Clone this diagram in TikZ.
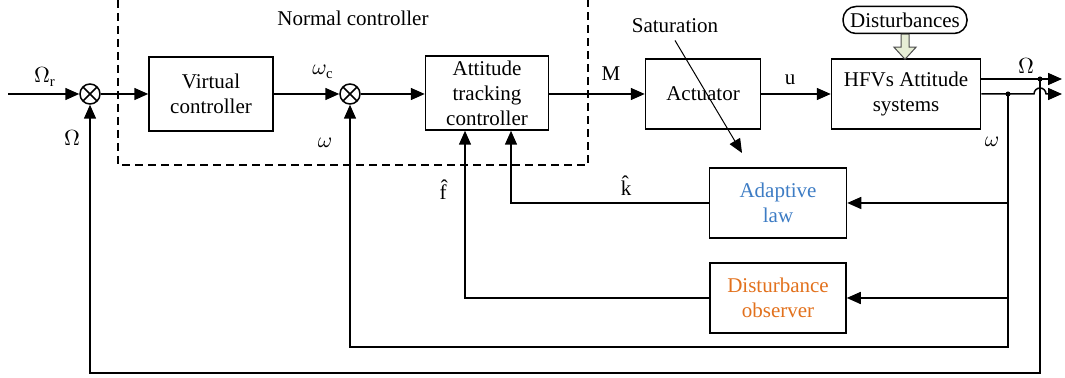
\documentclass[tikz,border=0pt]{standalone}
\usepackage{fontspec}
\setmainfont{Liberation Serif}
\usetikzlibrary{arrows.meta}
\definecolor{lawblue}{HTML}{3D7CC4}
\definecolor{obsorange}{HTML}{E2711D}
\definecolor{hollowfill}{HTML}{E6EDD5}
\begin{document}
\begin{tikzpicture}[x=0.5pt, y=-0.5pt, >={Triangle[length=7pt,width=6pt]}, line width=0.75pt,
    block/.style={draw, align=center, inner sep=0pt, font=\fontsize{10.5}{12.5}\selectfont},
    sumnode/.style={draw, circle, minimum size=10pt, inner sep=0pt,
        path picture={\draw (path picture bounding box.north west) -- (path picture bounding box.south east)
            (path picture bounding box.south west) -- (path picture bounding box.north east);}},
    lbl/.style={font=\fontsize{10.5}{12.5}\selectfont},
    dot/.style={circle, fill, inner sep=0pt, minimum size=2.5pt}]
    \useasboundingbox (0,0) rectangle (1065,378);
    % normal controller frame
    \draw[dashed, dash pattern=on 4pt off 2.5pt] (118,0) |- (588,165) -- (588,0);
    \node[lbl] (ncl) at (353,18) {Normal controller};
    % main row
    \coordinate (in) at (8,94);
    \node[sumnode] (s1) at (90,94) {};
    \node[block, minimum width=62pt, minimum height=37pt] (vc) at (211,94) {Virtual\\controller};
    \node[sumnode] (s2) at (350,94) {};
    \node[block, minimum width=61.5pt, minimum height=37pt] (atc) at (487,93) {Attitude\\tracking\\controller};
    \node[block, minimum width=57.5pt, minimum height=35pt] (act) at (703,94) {Actuator};
    \node[block, minimum width=74.5pt, minimum height=35pt] (hfv) at (906,94) {HFVs Attitude\\systems};
    \node[draw, rounded corners=6.5pt, minimum width=62pt, minimum height=13.5pt, inner sep=0pt, lbl] (dist) at (905,20) {Disturbances};
    % feedback blocks
    \node[block, minimum width=68.5pt, minimum height=35pt, text=lawblue] (adapt) at (778,203) {Adaptive\\law};
    \node[block, minimum width=68pt, minimum height=35pt, text=obsorange] (obs) at (778,298) {Disturbance\\observer};
    % outputs and branch points
    \node[dot] (bO) at (1040,79) {};
    \node[dot] (bw) at (1008,94) {};
    \coordinate (oO) at (1062,79);
    \coordinate (ow) at (1062,94);
    \coordinate (jL) at (1034,94);

    \draw[->] (in) -- (s1);
    \draw[->] (s1) -- (vc);
    \draw[->] (vc) -- (s2);
    \draw[->] (s2) -- (atc.west |- s2);
    \draw[->] (atc.east |- act) -- (act);
    \draw[->] (act) -- (hfv);
    \draw[->] (hfv.east |- bO) -- (oO);
    \draw[->] (hfv.east) -- (jL) arc[start angle=180, end angle=0, radius=3pt] -- (ow);
    \draw[->] (bO.center) -- ++(0,294) -| (s1);
    \draw[->] (bw.center) -- ++(0,253) -| (s2);
    \draw[->] (bw |- adapt) -- (adapt);
    \draw[->] (bw |- obs) -- (obs);
    \draw[->] (adapt) -| ([xshift=12pt]atc.south);
    \draw[->] (obs) -| ([xshift=-11pt]atc.south);
    % disturbance input
    \draw[fill=hollowfill, draw=black!70, line width=0.5pt] ([xshift=-2pt]dist.south) -- ++(0,-6.5pt) -- ++(-3.5pt,0)
        -- ++(5.5pt,-6pt) -- ++(5.5pt,6pt) -- ++(-3.5pt,0) -- ++(0,6.5pt) -- cycle;
    % saturation
    \node[lbl] (sat) at (675,26) {Saturation};
    \coordinate (satend) at (742,153);
    \draw[->, line width=0.5pt] (sat.south) -- (satend);
    % signal labels
    \node[lbl] at (45,77) {$\Omega_{\mathrm{r}}$};
    \node[lbl] at (72,138) {$\Omega$};
    \node[lbl] at (323,72) {$\omega_{\mathrm{c}}$};
    \node[lbl] at (325,143) {$\omega$};
    \node[lbl] at (611,74) {M};
    \node[lbl] at (790,80) {u};
    \node[lbl] at (1026,66) {$\Omega$};
    \node[lbl] at (992,142) {$\omega$};
    \node[lbl] at (626,186) {\^{k}};
    \node[lbl] at (443,190) {\^{f}};
\end{tikzpicture}
\end{document}
